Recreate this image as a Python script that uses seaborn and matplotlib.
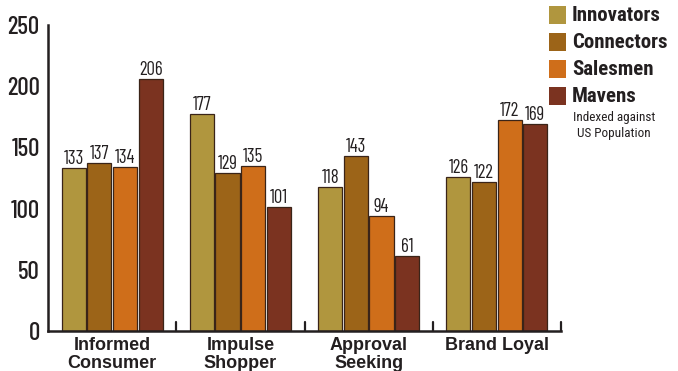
import matplotlib
matplotlib.use("Agg")
import matplotlib.pyplot as plt
import seaborn as sns
import pandas as pd
from matplotlib.patches import Rectangle

categories = ["Informed\nConsumer", "Impulse\nShopper", "Approval\nSeeking", "Brand Loyal"]
segments = ["Innovators", "Connectors", "Salesmen", "Mavens"]
innovators = [133, 177, 118, 126]
connectors = [137, 129, 143, 122]
salesmen = [134, 135, 94, 172]
mavens = [206, 101, 61, 169]
colors = ["#B0963E", "#9C6418", "#CF6E1A", "#7B3320"]
y_ticks = [0, 50, 100, 150, 200, 250]
note = "Indexed against\nUS Population"

sns.set_theme(style="white")
plt.rcParams["font.family"] = ["Barlow Condensed", "Roboto Condensed", "DejaVu Sans"]
INK = "#231f20"

rows = []
for seg, vals in zip(segments, [innovators, connectors, salesmen, mavens]):
    for cat, v in zip(categories, vals):
        rows.append({"category": cat, "segment": seg, "value": v})
df = pd.DataFrame(rows)

W, H = 678, 371
fig = plt.figure(figsize=(W / 100, H / 100), dpi=100)
ax = fig.add_axes([48 / W, 1 - 331 / H, (561 - 48) / W, (331 - 25) / H])

sns.barplot(data=df, x="category", y="value", hue="segment", order=categories,
            hue_order=segments, palette=colors, saturation=1, width=0.8, gap=0.06,
            edgecolor="#3a2418", linewidth=0.9, ax=ax, legend=False)

for cont in ax.containers:
    ax.bar_label(cont, fmt="%d", padding=0, fontsize=13.5, color=INK)

ax.set_xlim(-0.5, 3.5)
ax.set_ylim(0, 250)
ax.set_yticks(y_ticks)
ax.set_yticklabels([str(t) for t in y_ticks], fontsize=18, fontweight="medium", color=INK)
ax.tick_params(axis="y", direction="in", length=9.5, width=1.6, color=INK, pad=6)

ax.set_xticks([0, 1, 2, 3])
ax.set_xticklabels(categories, fontsize=13, fontweight="bold", color=INK,
                   linespacing=1.1, family=["Liberation Sans", "DejaVu Sans"])
ax.tick_params(axis="x", length=0, pad=4)
for xb in [0.5, 1.5, 2.5, 3.5]:
    ax.plot([xb, xb], [0, 7], color=INK, lw=1.6, clip_on=False)

ax.set_xlabel("")
ax.set_ylabel("")
for s in ["top", "right"]:
    ax.spines[s].set_visible(False)
for s in ["left", "bottom"]:
    ax.spines[s].set_color(INK)
    ax.spines[s].set_linewidth(1.8)

# legend: colour squares with bold condensed labels, top right
for i, (seg, c) in enumerate(zip(segments, colors)):
    top = 6 + 27 * i
    fig.add_artist(Rectangle((549 / W, 1 - (top + 18) / H), 17 / W, 18 / H,
                             transform=fig.transFigure, facecolor=c, edgecolor="none"))
    fig.text(572 / W, 1 - (top + 9.5) / H, seg, fontsize=15, fontweight="bold",
             family=["Roboto Condensed", "DejaVu Sans"], color=INK, va="center", ha="left")
fig.text(614 / W, 1 - 126 / H, note, ha="center", va="center", fontsize=9.5,
         family=["Roboto Condensed", "DejaVu Sans"], color=INK, linespacing=1.3)

fig.savefig("out.png", dpi=100)
